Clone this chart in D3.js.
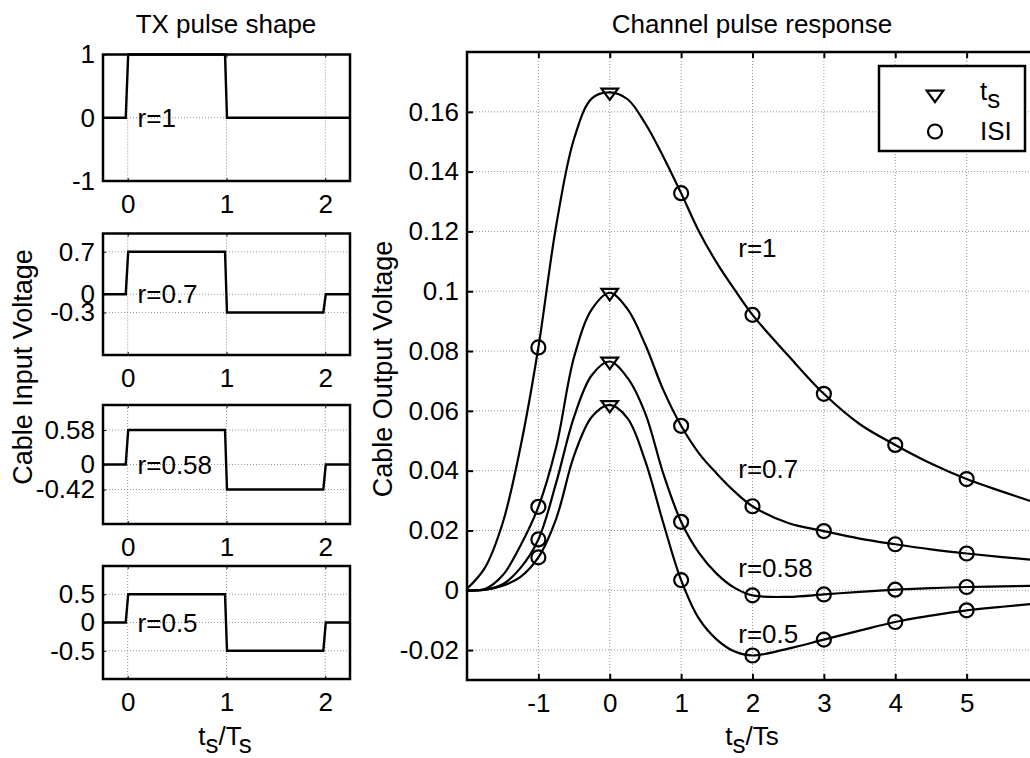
<!DOCTYPE html>
<html>
<head>
<meta charset="utf-8">
<script src="https://cdn.jsdelivr.net/npm/d3@7"></script>
<style>
    body { margin: 0; background: #fff; }
    svg { font-family: "Liberation Sans", Arial, sans-serif; }
    .grid line { stroke: #959595; stroke-width: 1; stroke-dasharray: 1,2; }
</style>
</head>
<body>
<svg id="chart" width="1030" height="758"></svg>
<script>
// TX pulse shape (left column), one panel per r:
var pulseR = ['r=1', 'r=0.7', 'r=0.58', 'r=0.5'];
var pulseT = [-0.25, -0.02, 0.005, 0.985, 1.005, 1.98, 2.005, 2.25];
var pulse1   = [0, 0, 1,    1,    0,     0,     0, 0];
var pulse07  = [0, 0, 0.7,  0.7,  -0.3,  -0.3,  0, 0];
var pulse058 = [0, 0, 0.58, 0.58, -0.42, -0.42, 0, 0];
var pulse05  = [0, 0, 0.5,  0.5,  -0.5,  -0.5,  0, 0];
var pulseYTicks = [[-1, 0, 1], [-0.3, 0, 0.7], [-0.42, 0, 0.58], [-0.5, 0, 0.5]];
var pulseXTicks = [0, 1, 2];

// Channel pulse response (right panel):
var respT    = [-2, -1.75, -1.5, -1.25, -1, -0.75, -0.5, -0.25, 0, 0.25, 0.5, 0.75, 1,
                1.25, 1.5, 1.75, 2, 2.5, 3, 3.5, 4, 4.5, 5, 5.5, 6];
var resp1    = [0.0005, 0.0075, 0.0225, 0.048, 0.0812, 0.122, 0.151, 0.1645, 0.1665, 0.1642, 0.156, 0.145, 0.1328,
                0.120, 0.1095, 0.1005, 0.0921, 0.0785, 0.0657, 0.0556, 0.0486, 0.0424, 0.0372, 0.033, 0.029];
var resp07   = [0, 0.0004, 0.005, 0.015, 0.0279, 0.048, 0.078, 0.094, 0.0995, 0.094, 0.082, 0.067, 0.0550,
                0.0458, 0.039, 0.033, 0.0281, 0.0225, 0.0198, 0.0173, 0.0154, 0.0137, 0.0123, 0.0111, 0.0100];
var resp058  = [0, 0.0002, 0.002, 0.0075, 0.017, 0.036, 0.058, 0.072, 0.0765, 0.071, 0.059, 0.039, 0.0229,
                0.0125, 0.0055, 0.0008, -0.0017, -0.0022, -0.0014, -0.0005, 0.0002, 0.0007, 0.0011, 0.0013, 0.0015];
var resp05   = [0, 0.0001, 0.0015, 0.0045, 0.011, 0.024, 0.045, 0.058, 0.062, 0.0575, 0.043, 0.0225, 0.0034,
                -0.0095, -0.0165, -0.0205, -0.0218, -0.0195, -0.0165, -0.0135, -0.0106, -0.0085, -0.0067, -0.0055, -0.0044];
var respLabelT = [1.8, 1.8, 1.8, 1.8];
var respLabelY = [0.1145, 0.0405, 0.0075, -0.0145];
var tsT  = [0];
var isiT = [-1, 1, 2, 3, 4, 5];
var respXTicks = [-1, 0, 1, 2, 3, 4, 5];
var respYTicks = [-0.02, 0, 0.02, 0.04, 0.06, 0.08, 0.1, 0.12, 0.14, 0.16];

var svg = d3.select('#chart');
var fontSize = 26;

var pulses = [pulse1, pulse07, pulse058, pulse05];
var responses = [resp1, resp07, resp058, resp05];

// Triangle marker ('v'), centred on the point:
var triangle = 'M-8.3,-3.8L8.3,-3.8L0,7.6Z';

function styleAxis(g) {
    g.attr('font-size', fontSize).attr('font-family', null);
    g.select('.domain').remove();
    g.selectAll('.tick text').attr('fill', '#000');
    g.selectAll('.tick line').attr('stroke', '#000');
}

// Left column:
var pulseBoxes = [[54.5, 181], [233.5, 355], [405, 524], [566, 679]];
var pulseX = d3.scaleLinear().domain([-0.25, 2.25]).range([103, 350]);

pulseBoxes.forEach(function(box, i) {
    var y = d3.scaleLinear().domain([-1, 1]).range([box[1], box[0]]);
    var g = svg.append('g');

    // The grid:
    var grid = g.append('g').classed('grid', true);
    grid.selectAll('line.gx').data(pulseXTicks).enter().append('line')
        .attr('x1', (d) => pulseX(d)).attr('x2', (d) => pulseX(d))
        .attr('y1', box[0]).attr('y2', box[1]);
    grid.selectAll('line.gy').data(pulseYTicks[i]).enter().append('line')
        .attr('x1', pulseX.range()[0]).attr('x2', pulseX.range()[1])
        .attr('y1', (d) => y(d)).attr('y2', (d) => y(d));

    // Axes:
    g.append('g').attr('transform', 'translate(' + pulseX.range()[0] + ',0)')
        .call(d3.axisLeft(y).tickValues(pulseYTicks[i]).tickFormat(String)
              .tickSizeInner(-3).tickSizeOuter(0).tickPadding(8))
        .call(styleAxis);
    g.append('g').attr('transform', 'translate(0,' + box[1] + ')')
        .call(d3.axisBottom(pulseX).tickValues(pulseXTicks).tickFormat(String)
              .tickSizeInner(-3).tickSizeOuter(0).tickPadding(13.5))
        .call(styleAxis);
    g.append('g').attr('transform', 'translate(0,' + box[0] + ')')
        .call(d3.axisTop(pulseX).tickValues(pulseXTicks).tickFormat('')
              .tickSizeInner(-3).tickSizeOuter(0))
        .call(styleAxis);

    // The waveform:
    var line = d3.line().x((d) => pulseX(d[0])).y((d) => y(d[1]));
    g.append('path').datum(d3.zip(pulseT, pulses[i]))
        .attr('d', line).attr('fill', 'none')
        .attr('stroke', '#000').attr('stroke-width', 2.4);

    // Box:
    g.append('rect').attr('x', pulseX.range()[0]).attr('y', box[0])
        .attr('width', pulseX.range()[1] - pulseX.range()[0])
        .attr('height', box[1] - box[0])
        .attr('fill', 'none').attr('stroke', '#000').attr('stroke-width', 2.5);

    // Label:
    g.append('text').attr('x', pulseX(0.1)).attr('y', y(0))
        .attr('dy', '0.35em').attr('font-size', fontSize).text(pulseR[i]);
});

// Left titles and labels:
svg.append('text').attr('x', 226).attr('y', 33).attr('text-anchor', 'middle')
   .attr('font-size', fontSize).text('TX pulse shape');
svg.append('text').attr('transform', 'translate(32,367) rotate(-90)')
   .attr('text-anchor', 'middle').attr('font-size', 27).text('Cable Input Voltage');
var lx = svg.append('text').attr('x', 225).attr('y', 745).attr('text-anchor', 'middle')
   .attr('font-size', fontSize);
lx.append('tspan').text('t');
lx.append('tspan').attr('dy', 8).text('s');
lx.append('tspan').attr('dy', -8).text('/T');
lx.append('tspan').attr('dy', 8).text('s');

// Right panel:
var xScale = d3.scaleLinear().domain([-2, 6]).range([467, 1038]);
var yScale = d3.scaleLinear().domain([-0.03, 0.18]).range([680, 52]);
var right = svg.append('g');

var rgrid = right.append('g').classed('grid', true);
rgrid.selectAll('line.gx').data(respXTicks).enter().append('line')
     .attr('x1', (d) => xScale(d)).attr('x2', (d) => xScale(d))
     .attr('y1', yScale.range()[1]).attr('y2', yScale.range()[0]);
rgrid.selectAll('line.gy').data(respYTicks).enter().append('line')
     .attr('x1', xScale.range()[0]).attr('x2', xScale.range()[1])
     .attr('y1', (d) => yScale(d)).attr('y2', (d) => yScale(d));

right.append('g').attr('transform', 'translate(' + xScale.range()[0] + ',0)')
     .call(d3.axisLeft(yScale).tickValues(respYTicks).tickFormat(String)
           .tickSizeInner(-6).tickSizeOuter(0).tickPadding(8))
     .call(styleAxis);
right.append('g').attr('transform', 'translate(0,' + yScale.range()[0] + ')')
     .call(d3.axisBottom(xScale).tickValues(respXTicks).tickFormat(String)
           .tickSizeInner(-6).tickSizeOuter(0).tickPadding(13.5))
     .call(styleAxis);
right.append('g').attr('transform', 'translate(0,' + yScale.range()[1] + ')')
     .call(d3.axisTop(xScale).tickValues(respXTicks).tickFormat('')
           .tickSizeInner(-6).tickSizeOuter(0))
     .call(styleAxis);
right.selectAll('.tick line').attr('stroke-width', 2);

// The curves:
var curve = d3.line().x((d) => xScale(d[0])).y((d) => yScale(d[1]))
              .curve(d3.curveCatmullRom.alpha(0.5));
responses.forEach(function(resp, i) {
    var pts = d3.zip(respT, resp);
    right.append('path').datum(pts).attr('d', curve)
         .attr('fill', 'none').attr('stroke', '#000').attr('stroke-width', 2.2);

    var isi = pts.filter((d) => isiT.indexOf(d[0]) >= 0);
    right.selectAll(null).data(isi).enter().append('circle')
         .attr('cx', (d) => xScale(d[0])).attr('cy', (d) => yScale(d[1]))
         .attr('r', 7).attr('fill', 'none').attr('stroke', '#000').attr('stroke-width', 2.2);

    var ts = pts.filter((d) => tsT.indexOf(d[0]) >= 0);
    right.selectAll(null).data(ts).enter().append('path')
         .attr('transform', (d) => 'translate(' + xScale(d[0]) + ',' + yScale(d[1]) + ')')
         .attr('d', triangle).attr('fill', 'none')
         .attr('stroke', '#000').attr('stroke-width', 2.2);

    right.append('text').attr('x', xScale(respLabelT[i])).attr('y', yScale(respLabelY[i]))
         .attr('dy', '0.35em').attr('font-size', fontSize).text(pulseR[i]);
});

// Box:
right.append('rect').attr('x', xScale.range()[0]).attr('y', yScale.range()[1])
     .attr('width', xScale.range()[1] - xScale.range()[0])
     .attr('height', yScale.range()[0] - yScale.range()[1])
     .attr('fill', 'none').attr('stroke', '#000').attr('stroke-width', 2.5);

// Legend:
var legend = svg.append('g');
legend.append('rect').attr('x', 879).attr('y', 66).attr('width', 146).attr('height', 85)
      .attr('fill', '#fff').attr('stroke', '#000').attr('stroke-width', 2.5);
legend.append('path').attr('transform', 'translate(935,94.5)').attr('d', triangle)
      .attr('fill', 'none').attr('stroke', '#000').attr('stroke-width', 2.2);
legend.append('circle').attr('cx', 935).attr('cy', 131.5).attr('r', 7)
      .attr('fill', 'none').attr('stroke', '#000').attr('stroke-width', 2.2);
var lt = legend.append('text').attr('x', 980).attr('y', 100).attr('font-size', fontSize);
lt.append('tspan').text('t');
lt.append('tspan').attr('dy', 8).text('s');
legend.append('text').attr('x', 980).attr('y', 140).attr('font-size', fontSize).text('ISI');

// Right titles and labels:
svg.append('text').attr('x', 752).attr('y', 33).attr('text-anchor', 'middle')
   .attr('font-size', fontSize).text('Channel pulse response');
svg.append('text').attr('transform', 'translate(392,369) rotate(-90)')
   .attr('text-anchor', 'middle').attr('font-size', 27).text('Cable Output Voltage');
var rx = svg.append('text').attr('x', 752).attr('y', 745).attr('text-anchor', 'middle')
   .attr('font-size', fontSize);
rx.append('tspan').text('t');
rx.append('tspan').attr('dy', 8).text('s');
rx.append('tspan').attr('dy', -8).text('/Ts');
</script>
</body>
</html>
